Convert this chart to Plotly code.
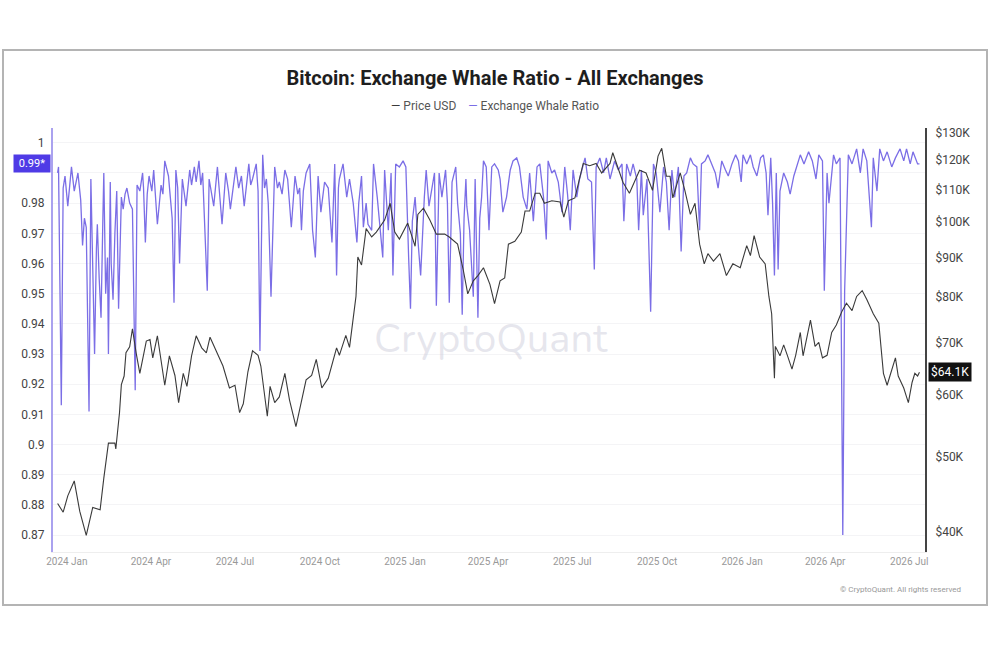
import plotly.graph_objects as go
import math

# ---------------- data ----------------
price_dates = [
    "2023-12-22","2023-12-28","2024-01-02","2024-01-09","2024-01-15","2024-01-22","2024-01-29","2024-02-06",
    "2024-02-10","2024-02-13","2024-02-15","2024-02-22","2024-02-23","2024-02-27","2024-02-29","2024-03-03",
    "2024-03-05","2024-03-09","2024-03-12","2024-03-16","2024-03-20","2024-03-27","2024-03-31","2024-04-03",
    "2024-04-08","2024-04-16","2024-04-21","2024-04-27","2024-05-01","2024-05-06","2024-05-10","2024-05-15",
    "2024-05-20","2024-05-26","2024-05-31","2024-06-04","2024-06-11","2024-06-18","2024-06-25","2024-07-01",
    "2024-07-06","2024-07-10","2024-07-15","2024-07-20","2024-07-26","2024-07-29","2024-08-05","2024-08-08",
    "2024-08-13","2024-08-18","2024-08-24","2024-08-29","2024-09-05","2024-09-11","2024-09-16","2024-09-22",
    "2024-09-27","2024-10-03","2024-10-10","2024-10-19","2024-10-22","2024-10-29","2024-11-02","2024-11-09",
    "2024-11-11","2024-11-15","2024-11-20","2024-11-26","2024-12-01","2024-12-10","2024-12-16","2024-12-21",
    "2024-12-26","2025-01-04","2025-01-12","2025-01-15","2025-01-21","2025-01-28","2025-02-04","2025-02-13",
    "2025-02-18","2025-02-27","2025-03-05","2025-03-10","2025-03-16","2025-03-21","2025-03-27","2025-04-03",
    "2025-04-08","2025-04-14","2025-04-19","2025-04-23","2025-04-30","2025-05-07","2025-05-11","2025-05-16",
    "2025-05-22","2025-05-27","2025-06-01","2025-06-09","2025-06-18","2025-06-22","2025-06-27","2025-07-04",
    "2025-07-13","2025-07-20","2025-07-27","2025-08-02","2025-08-11","2025-08-14","2025-08-20","2025-08-25",
    "2025-09-01","2025-09-12","2025-09-19","2025-09-26","2025-10-02","2025-10-06","2025-10-11","2025-10-15",
    "2025-10-18","2025-10-26","2025-10-31","2025-11-06","2025-11-11","2025-11-16","2025-11-21","2025-11-25",
    "2025-12-01","2025-12-08","2025-12-15","2025-12-22","2025-12-30","2026-01-06","2026-01-10","2026-01-14",
    "2026-01-20","2026-01-26","2026-01-30","2026-02-02","2026-02-05","2026-02-06","2026-02-11","2026-02-15",
    "2026-02-19","2026-02-24","2026-02-28","2026-03-05","2026-03-08","2026-03-16","2026-03-21","2026-03-25",
    "2026-03-29","2026-04-03","2026-04-08","2026-04-13","2026-04-19","2026-04-24","2026-04-30","2026-05-05",
    "2026-05-11","2026-05-16","2026-05-23","2026-05-29","2026-06-03","2026-06-07","2026-06-10","2026-06-16",
    "2026-06-19","2026-06-25","2026-06-28","2026-06-30","2026-07-04","2026-07-07","2026-07-10","2026-07-12",
]
price_k = [
    43.5,42.4,44.5,46.5,42.5,39.6,43.0,42.7,
    46.9,50.0,52.0,52.0,51.1,56.9,61.8,63.4,
    67.9,69.1,72.9,67.9,63.9,70.3,70.6,66.9,
    71.4,61.7,67.3,63.5,58.6,63.9,61.5,67.3,
    71.4,68.9,67.9,71.1,68.3,65.3,61.2,61.7,
    56.9,58.4,64.2,68.3,67.4,65.3,56.3,61.5,
    58.6,59.6,63.9,59.1,54.6,58.6,62.7,63.5,
    66.6,61.2,63.0,68.9,67.4,71.5,69.0,80.2,
    90.1,88.0,98.0,95.6,97.0,100.5,105.6,97.0,
    95.0,99.6,93.0,102.2,104.1,100.5,96.4,96.4,
    95.6,93.6,86.9,80.8,84.0,85.3,87.3,83.1,
    78.5,84.0,84.7,93.6,94.4,97.0,103.2,103.2,
    108.8,108.8,105.6,106.4,106.0,101.4,106.4,107.3,
    118.8,118.0,118.8,115.5,118.8,122.6,116.5,112.4,
    108.8,116.4,115.5,109.7,121.4,124.2,114.4,114.4,
    107.3,115.5,109.7,102.2,105.6,93.6,88.3,91.0,
    89.0,91.0,85.3,88.3,87.3,93.2,90.5,96.0,
    90.1,88.3,80.2,76.2,63.0,69.2,67.3,69.5,
    67.4,64.7,67.4,72.1,67.3,74.8,69.2,70.0,
    66.9,67.4,72.1,73.7,76.7,78.6,76.9,80.2,
    81.6,79.5,76.2,74.1,63.9,61.7,63.4,66.9,
    63.4,61.2,59.6,58.6,62.2,63.9,63.4,64.1,
]

ratio_dates = [
    "2023-12-22","2023-12-23","2023-12-26","2023-12-28","2023-12-30","2024-01-02","2024-01-06","2024-01-09",
    "2024-01-13","2024-01-16","2024-01-18","2024-01-20","2024-01-22","2024-01-23","2024-01-25","2024-01-27",
    "2024-01-29","2024-01-31","2024-02-02","2024-02-03","2024-02-05","2024-02-07","2024-02-09","2024-02-10",
    "2024-02-12","2024-02-14","2024-02-15","2024-02-17","2024-02-18","2024-02-20","2024-02-22","2024-02-24",
    "2024-02-26","2024-02-29","2024-03-02","2024-03-04","2024-03-06","2024-03-09","2024-03-12","2024-03-15",
    "2024-03-17","2024-03-20","2024-03-23","2024-03-24","2024-03-26","2024-03-28","2024-03-30","2024-04-02",
    "2024-04-04","2024-04-08","2024-04-12","2024-04-14","2024-04-16","2024-04-20","2024-04-22","2024-04-24",
    "2024-04-26","2024-04-28","2024-04-30","2024-05-02","2024-05-05","2024-05-09","2024-05-13","2024-05-15",
    "2024-05-18","2024-05-20","2024-05-23","2024-05-25","2024-05-27","2024-06-01","2024-06-03","2024-06-06",
    "2024-06-08","2024-06-12","2024-06-14","2024-06-17","2024-06-21","2024-06-24","2024-06-26","2024-06-29",
    "2024-07-02","2024-07-05","2024-07-08","2024-07-11","2024-07-16","2024-07-18","2024-07-20","2024-07-24",
    "2024-07-26","2024-07-28","2024-07-31","2024-08-02","2024-08-04","2024-08-06","2024-08-09","2024-08-13",
    "2024-08-16","2024-08-18","2024-08-21","2024-08-24","2024-08-27","2024-08-31","2024-09-04","2024-09-07",
    "2024-09-09","2024-09-11","2024-09-13","2024-09-16","2024-09-20","2024-09-23","2024-09-26","2024-09-29",
    "2024-10-02","2024-10-06","2024-10-10","2024-10-12","2024-10-14","2024-10-17","2024-10-19","2024-10-21",
    "2024-10-22","2024-10-26","2024-10-30","2024-11-02","2024-11-06","2024-11-10","2024-11-12","2024-11-15",
    "2024-11-17","2024-11-20","2024-11-22","2024-11-26","2024-11-28","2024-12-02","2024-12-05","2024-12-08",
    "2024-12-10","2024-12-14","2024-12-17","2024-12-19","2024-12-22","2024-12-26","2024-12-30","2025-01-02",
    "2025-01-05","2025-01-07","2025-01-09","2025-01-12","2025-01-15","2025-01-18","2025-01-22","2025-01-24",
    "2025-01-27","2025-01-30","2025-02-02","2025-02-04","2025-02-07","2025-02-10","2025-02-14","2025-02-16",
    "2025-02-18","2025-02-21","2025-02-25","2025-02-27","2025-03-02","2025-03-04","2025-03-06","2025-03-08",
    "2025-03-09","2025-03-12","2025-03-16","2025-03-18","2025-03-21","2025-03-23","2025-03-25","2025-03-27",
    "2025-03-30","2025-04-02","2025-04-05","2025-04-08","2025-04-12","2025-04-14","2025-04-17","2025-04-21",
    "2025-04-25","2025-04-28","2025-05-02","2025-05-05","2025-05-09","2025-05-13","2025-05-16","2025-05-20",
    "2025-05-24","2025-05-27","2025-05-31","2025-06-03","2025-06-05","2025-06-09","2025-06-12","2025-06-16",
    "2025-06-20","2025-06-23","2025-06-26","2025-06-29","2025-07-02","2025-07-06","2025-07-09","2025-07-15",
    "2025-07-18","2025-07-22","2025-07-25","2025-07-27","2025-07-31","2025-08-04","2025-08-07","2025-08-11",
    "2025-08-16","2025-08-20","2025-08-24","2025-08-26","2025-08-29","2025-09-02","2025-09-05","2025-09-09",
    "2025-09-11","2025-09-14","2025-09-16","2025-09-20","2025-09-24","2025-09-27","2025-09-30","2025-10-04",
    "2025-10-08","2025-10-11","2025-10-14","2025-10-17","2025-10-20","2025-10-24","2025-10-27","2025-10-30",
    "2025-11-02","2025-11-06","2025-11-09","2025-11-13","2025-11-16","2025-11-18","2025-11-22","2025-11-25",
    "2025-11-29","2025-12-03","2025-12-06","2025-12-10","2025-12-14","2025-12-17","2025-12-21","2025-12-25",
    "2025-12-28","2025-12-31","2026-01-02","2026-01-06","2026-01-10","2026-01-13","2026-01-17","2026-01-21",
    "2026-01-24","2026-01-27","2026-01-29","2026-02-01","2026-02-03","2026-02-05","2026-02-07","2026-02-09",
    "2026-02-11","2026-02-15","2026-02-19","2026-02-22","2026-02-26","2026-03-02","2026-03-05","2026-03-09",
    "2026-03-14","2026-03-18","2026-03-22","2026-03-25","2026-03-29","2026-03-31","2026-04-03","2026-04-05",
    "2026-04-10","2026-04-13","2026-04-17","2026-04-20","2026-04-22","2026-04-26","2026-04-30","2026-05-05",
    "2026-05-09","2026-05-12","2026-05-16","2026-05-21","2026-05-23","2026-05-27","2026-05-30","2026-06-03",
    "2026-06-07","2026-06-12","2026-06-16","2026-06-21","2026-06-25","2026-06-28","2026-07-02","2026-07-05",
    "2026-07-10","2026-07-12",
]
ratio_values = [
    0.990,0.992,0.913,0.985,0.989,0.979,0.992,0.984,
    0.990,0.981,0.966,0.975,0.972,0.950,0.911,0.988,
    0.960,0.930,0.965,0.973,0.955,0.942,0.975,0.990,
    0.950,0.962,0.930,0.987,0.960,0.948,0.970,0.984,
    0.945,0.982,0.978,0.983,0.985,0.980,0.978,0.918,
    0.986,0.984,0.990,0.985,0.967,0.983,0.989,0.984,
    0.991,0.973,0.986,0.983,0.994,0.989,0.982,0.975,
    0.947,0.991,0.985,0.960,0.988,0.979,0.991,0.986,
    0.992,0.987,0.994,0.986,0.990,0.951,0.988,0.983,
    0.979,0.992,0.985,0.973,0.990,0.984,0.978,0.986,
    0.992,0.985,0.989,0.979,0.993,0.986,0.988,0.993,
    0.984,0.931,0.996,0.985,0.988,0.980,0.949,0.992,
    0.985,0.987,0.983,0.991,0.988,0.972,0.989,0.983,
    0.985,0.971,0.984,0.990,0.993,0.971,0.962,0.989,
    0.977,0.987,0.985,0.976,0.967,0.993,0.956,0.985,
    0.988,0.993,0.982,0.988,0.980,0.967,0.980,0.989,
    0.972,0.980,0.973,0.971,0.993,0.982,0.971,0.962,
    0.991,0.971,0.990,0.956,0.993,0.992,0.994,0.992,
    0.962,0.945,0.974,0.982,0.968,0.956,0.982,0.991,
    0.979,0.985,0.990,0.946,0.990,0.982,0.991,0.980,
    0.947,0.987,0.992,0.980,0.970,0.943,0.975,0.988,
    0.979,0.971,0.949,0.988,0.942,0.975,0.982,0.994,
    0.992,0.971,0.992,0.993,0.991,0.988,0.977,0.982,
    0.991,0.994,0.995,0.992,0.982,0.978,0.990,0.974,
    0.992,0.993,0.982,0.968,0.994,0.990,0.991,0.987,
    0.977,0.992,0.983,0.971,0.991,0.982,0.988,0.995,
    0.988,0.987,0.958,0.992,0.995,0.990,0.995,0.988,
    0.994,0.991,0.993,0.974,0.993,0.989,0.993,0.988,
    0.971,0.991,0.976,0.988,0.944,0.993,0.990,0.977,
    0.992,0.987,0.971,0.991,0.982,0.992,0.964,0.989,
    0.990,0.995,0.993,0.992,0.971,0.993,0.994,0.996,
    0.993,0.990,0.985,0.994,0.991,0.989,0.993,0.996,
    0.994,0.987,0.996,0.993,0.996,0.992,0.989,0.995,
    0.996,0.990,0.976,0.995,0.980,0.956,0.990,0.958,
    0.984,0.990,0.987,0.983,0.989,0.993,0.996,0.993,
    0.997,0.994,0.988,0.996,0.994,0.951,0.990,0.980,
    0.996,0.993,0.995,0.870,0.951,0.996,0.993,0.998,
    0.990,0.998,0.994,0.972,0.995,0.984,0.998,0.994,
    0.997,0.992,0.995,0.998,0.994,0.998,0.993,0.997,
    0.993,0.993,
]

# 0.99 tick text sits under the last-value badge in the reference, so the badge carries it
left_ticks = [0.87, 0.88, 0.89, 0.90, 0.91, 0.92, 0.93, 0.94, 0.95, 0.96, 0.97, 0.98, 0.99, 1.00]
left_tick_text = ["0.87", "0.88", "0.89", "0.9", "0.91", "0.92", "0.93", "0.94", "0.95",
                  "0.96", "0.97", "0.98", "", "1"]
right_ticks_k = [40, 50, 60, 70, 80, 90, 100, 110, 120, 130]
right_tick_text = ["$40K", "$50K", "$60K", "$70K", "$80K", "$90K", "$100K", "$110K", "$120K", "$130K"]

price_usd = [v * 1000 for v in price_k]
last_price = price_usd[-1]
last_ratio = ratio_values[-1]

# ---------------- styling ----------------
PURPLE = "#7b6ee6"
FONT = "Roboto"

fig = go.Figure()
fig.add_trace(go.Scatter(
    x=ratio_dates, y=ratio_values, name="Exchange Whale Ratio", mode="lines",
    line=dict(color=PURPLE, width=1.3), yaxis="y", showlegend=False,
))
fig.add_trace(go.Scatter(
    x=price_dates, y=price_usd, name="Price USD", mode="lines",
    line=dict(color="#3a3a3a", width=1.1), yaxis="y2", showlegend=False,
))

fig.update_layout(
    width=990, height=660,
    margin=dict(l=53, r=65, t=128, b=108),
    paper_bgcolor="white", plot_bgcolor="white",
    font=dict(family=FONT, color="#333"),
    title=dict(
        text="<b>Bitcoin: Exchange Whale Ratio - All Exchanges</b>",
        x=0.5, xanchor="center", y=1 - 78 / 660, yanchor="middle",
        font=dict(family=FONT, size=20, color="#1e1e1e"),
    ),
    xaxis=dict(
        type="date", range=["2023-12-17", "2026-07-18"],
        tick0="2024-01-01", dtick="M3", tickformat="%Y %b",
        showgrid=False, zeroline=False,
        showline=True, linecolor="#eeeeee", linewidth=1,
        ticks="", tickfont=dict(size=10, color="#999"),
    ),
    yaxis=dict(
        range=[0.8644, 1.0049], tickvals=left_ticks, ticktext=left_tick_text,
        showgrid=True, gridcolor="#f4f4f6", gridwidth=1, zeroline=False,
        showline=True, linecolor="#aaa2ef", linewidth=2,
        ticks="", ticklabelstandoff=4, tickfont=dict(size=12, color="#444"),
    ),
    yaxis2=dict(
        type="log", overlaying="y", side="right",
        range=[math.log10(37700), math.log10(131900)],
        tickvals=[v * 1000 for v in right_ticks_k], ticktext=right_tick_text,
        showgrid=False, zeroline=False,
        showline=True, linecolor="#444", linewidth=2,
        ticks="", ticklabelstandoff=6, tickfont=dict(size=12, color="#444"),
    ),
)

# outer frame
fig.add_shape(type="rect", xref="paper", yref="paper",
              x0=(3 - 53) / 872, x1=(987 - 53) / 872,
              y0=(552 - 605) / 424, y1=(552 - 50) / 424,
              line=dict(color="#b4b4b4", width=2), fillcolor="rgba(0,0,0,0)", layer="below")

# legend as text
fig.add_annotation(
    xref="paper", yref="paper", x=(495 - 53) / 872, y=(552 - 106) / 424,
    text=("<span style='color:#3a3a3a'>—</span> Price USD&nbsp;&nbsp;&nbsp;&nbsp;"
          f"<span style='color:{PURPLE}'>—</span> Exchange Whale Ratio"),
    showarrow=False, font=dict(size=12, color="#555"), xanchor="center", yanchor="middle",
)

# watermark
fig.add_annotation(
    xref="paper", yref="paper", x=(491 - 53) / 872, y=(552 - 339) / 424,
    text="CryptoQuant", showarrow=False,
    font=dict(family="Nunito, Lato, Noto Sans", size=40, color="rgba(200,200,214,0.45)"),
    xanchor="center", yanchor="middle",
)

# credit
fig.add_annotation(
    xref="paper", yref="paper", x=(963 - 53) / 872, y=(552 - 589) / 424,
    text="© CryptoQuant. All rights reserved", showarrow=False,
    font=dict(size=8, color="#999"), xanchor="right", yanchor="middle",
)

# last-value badges
fig.add_annotation(
    xref="paper", yref="y", x=(32 - 53) / 872, y=last_ratio,
    text=f"{last_ratio:.2f}*", showarrow=False, bgcolor="#4f3be6",
    font=dict(size=11, color="white"), xanchor="center", yanchor="middle",
    borderpad=2, width=32,
)
fig.add_annotation(
    xref="paper", yref="y2", x=(950 - 53) / 872, y=math.log10(last_price),
    text=f"${last_price / 1000:.1f}K", showarrow=False, bgcolor="#111",
    font=dict(size=12, color="white"), xanchor="center", yanchor="middle",
    borderpad=2,
)

assert len(price_dates) == len(price_k)
assert len(ratio_dates) == len(ratio_values)

fig.write_html("out.html")
